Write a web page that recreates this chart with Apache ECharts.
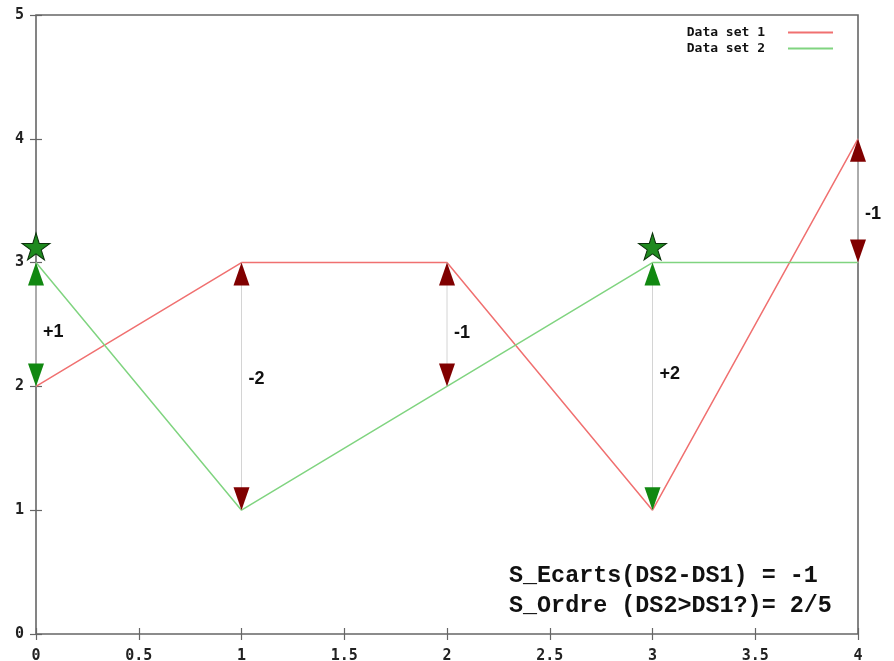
<!DOCTYPE html>
<html>
<head>
<meta charset="utf-8">
<script src="https://cdn.jsdelivr.net/npm/echarts@6/dist/echarts.min.js"></script>
<style>html,body{margin:0;padding:0;background:#fff}#c{width:894px;height:661px}</style>
</head>
<body>
<div id="c"></div>
<script>
var xs = [0, 1, 2, 3, 4];
var ds1 = [2, 3, 3, 1, 4];
var ds2 = [3, 1, 2, 3, 3];
var diffLabels = ['+1', '-2', '-1', '+2', '-1'];
var labelY = [2.44, 2.06, 2.435, 2.10, 3.395];
var starX = [0, 3];
var starY = [3.13, 3.13];
var summaryLines = ['S_Ecarts(DS2-DS1) = -1', 'S_Ordre (DS2>DS1?)= 2/5'];

var chart = echarts.init(document.getElementById('c'));
var axisCol = '#666666';
var starPath = 'path://M50,0 L61,35 L98,35 L68,57 L79,91 L50,70 L21,91 L32,57 L2,35 L39,35 Z';

function pairs(a) { return xs.map(function (x, i) { return [x, a[i]]; }); }

var arrowData = xs.map(function (x, i) { return [x, ds1[i], ds2[i], labelY[i], i]; });

var tickFont = { color: '#222', fontWeight: 'bold', fontSize: 15, fontFamily: 'DejaVu Sans Mono' };

var option = {
  animation: false,
  grid: { left: 36, right: 36, top: 15, bottom: 27, containLabel: false, outerBoundsMode: 'none', show: true, borderColor: axisCol, borderWidth: 1.6, backgroundColor: '#fff' },
  legend: {
    right: 56, top: 21, orient: 'vertical', align: 'right', itemGap: 3,
    itemWidth: 45, itemHeight: 2, icon: 'rect',
    textStyle: { fontFamily: 'DejaVu Sans Mono', fontWeight: 'bold', fontSize: 13, color: '#111', padding: [0, 18, 0, 0] },
    data: ['Data set 1', 'Data set 2']
  },
  xAxis: [{
    type: 'value', min: 0, max: 4, interval: 0.5, position: 'bottom',
    axisLine: { show: false }, splitLine: { show: false },
    axisTick: { inside: true, length: 6, lineStyle: { color: axisCol, width: 1.2 } },
    axisLabel: Object.assign({ margin: 15 }, tickFont)
  }, {
    type: 'value', min: 0, max: 4, interval: 0.5, position: 'top',
    axisLine: { show: false }, splitLine: { show: false },
    axisTick: { inside: true, length: 6, lineStyle: { color: axisCol, width: 1.2 } },
    axisLabel: { show: false }
  }],
  yAxis: [{
    type: 'value', min: 0, max: 5, interval: 1, position: 'left',
    axisLine: { show: false }, splitLine: { show: false },
    axisTick: { inside: true, length: 6, lineStyle: { color: axisCol, width: 1.2 } },
    axisLabel: Object.assign({ margin: 12 }, tickFont)
  }, {
    type: 'value', min: 0, max: 5, interval: 1, position: 'right',
    axisLine: { show: false }, splitLine: { show: false },
    axisTick: { inside: true, length: 6, lineStyle: { color: axisCol, width: 1.2 } },
    axisLabel: { show: false }
  }],
  series: [
    {
      type: 'custom', name: 'arrows', z: 3,
      data: arrowData,
      renderItem: function (params, api) {
        var x = api.value(0), a = api.value(1), b = api.value(2), ly = api.value(3), idx = api.value(4);
        var hi = Math.max(a, b), lo = Math.min(a, b);
        var pH = api.coord([x, hi]), pL = api.coord([x, lo]), pT = api.coord([x, ly]);
        var col = b > a ? '#118811' : '#800000';
        var w = 8, h = 23;
        return {
          type: 'group',
          children: [
            { type: 'line', shape: { x1: pH[0], y1: pH[1], x2: pL[0], y2: pL[1] }, style: { stroke: '#d4d4d4', lineWidth: 1 } },
            { type: 'polygon', shape: { points: [[pH[0], pH[1]], [pH[0] - w, pH[1] + h], [pH[0] + w, pH[1] + h]] }, style: { fill: col } },
            { type: 'polygon', shape: { points: [[pL[0], pL[1]], [pL[0] - w, pL[1] - h], [pL[0] + w, pL[1] - h]] }, style: { fill: col } },
            { type: 'text', x: pT[0] + 7, y: pT[1], style: { text: diffLabels[idx], fill: '#111', font: 'bold 18px "Liberation Sans"', verticalAlign: 'middle' } }
          ]
        };
      }
    },
    {
      type: 'line', name: 'Data set 1', data: pairs(ds1), showSymbol: false, symbol: 'none', z: 2,
      lineStyle: { color: '#f07070', width: 1.5 }, itemStyle: { color: '#f07070' }
    },
    {
      type: 'line', name: 'Data set 2', data: pairs(ds2), showSymbol: false, symbol: 'none', z: 2,
      lineStyle: { color: '#80d480', width: 1.5 }, itemStyle: { color: '#80d480' }
    },
    {
      type: 'scatter', name: 'stars', z: 5,
      data: starX.map(function (x, i) { return [x, starY[i]]; }),
      symbol: starPath, symbolSize: [28, 27],
      itemStyle: { color: '#1f8a1f', borderColor: '#0b320b', borderWidth: 1, opacity: 1 }
    }
  ],
  graphic: [{
    type: 'text', left: 509, top: 561, z: 10,
    style: { text: summaryLines.join('\n'), font: 'bold 23.4px "Liberation Mono"', fill: '#111', lineHeight: 30 }
  }]
};
chart.setOption(option);
</script>
</body>
</html>
